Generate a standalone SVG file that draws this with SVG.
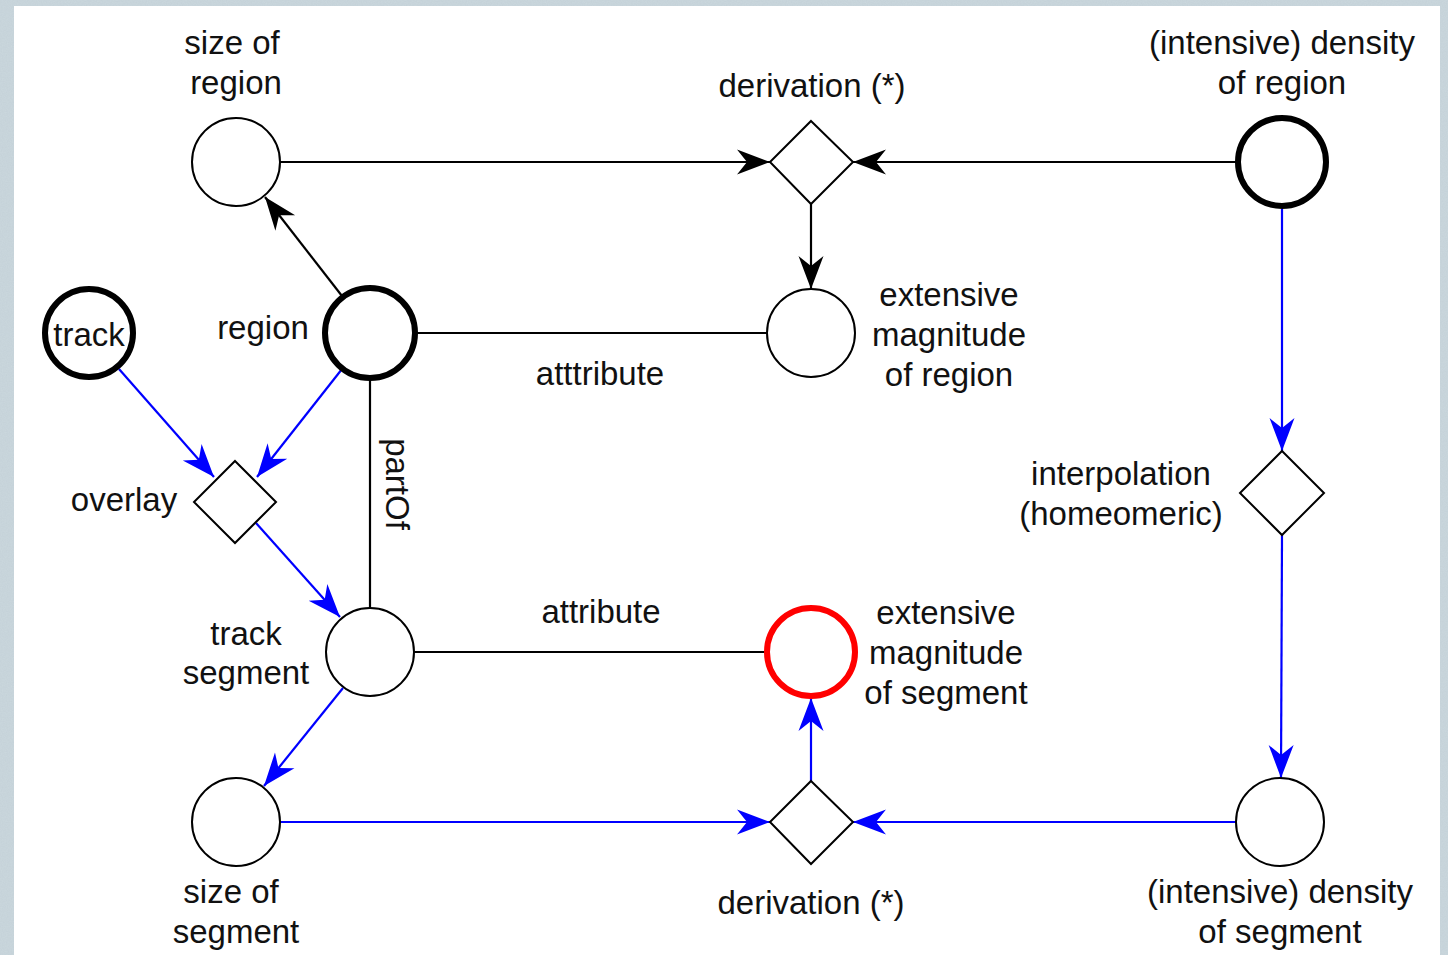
<svg xmlns="http://www.w3.org/2000/svg" width="1448" height="955" viewBox="0 0 1448 955">
  <style>
    .lbl { font-family: "Liberation Sans", Arial, sans-serif; font-size: 33px; fill: #111; text-anchor: middle; }
    .node { fill: #fff; stroke: #000; stroke-width: 2; }
    .bold { stroke-width: 6; }
    .red { stroke: #ff0000; stroke-width: 6; }
    .edge { fill: none; stroke: #000; stroke-width: 2.2; }
    .edge.blue { stroke: #0000ff; }
    .arr { marker-end: url(#arrowBlack); }
    .edge.blue.arr { marker-end: url(#arrowBlue); }
  </style>
  <defs>
    <marker id="arrowBlack" markerUnits="userSpaceOnUse" viewBox="-34 -14 35 28" refX="0" refY="0" markerWidth="35" markerHeight="28" orient="auto">
      <path d="M0,0 L-33,-12.5 L-23,0 L-33,12.5 Z" fill="#000"/>
    </marker>
    <marker id="arrowBlue" markerUnits="userSpaceOnUse" viewBox="-34 -14 35 28" refX="0" refY="0" markerWidth="35" markerHeight="28" orient="auto">
      <path d="M0,0 L-33,-12.5 L-23,0 L-33,12.5 Z" fill="#0000ff"/>
    </marker>
    <filter id="grain" x="0" y="0" width="100%" height="100%">
      <feTurbulence type="fractalNoise" baseFrequency="0.8" numOctaves="2" seed="3"/>
      <feColorMatrix type="matrix" values="0 0 0 0 0.52  0 0 0 0 0.60  0 0 0 0 0.65  0 0 0 0.6 0"/>
    </filter>
  </defs>

  <!-- textured backdrop and white sheet -->
  <rect x="0" y="0" width="1448" height="955" fill="#cbd8de"/>
  <rect x="0" y="0" width="1448" height="955" filter="url(#grain)"/>
  <rect x="14" y="6" width="1426" height="949" fill="#fff"/>

  <!-- connectors -->
  <g id="connectors">
    <line class="edge arr" x1="280" y1="162" x2="770" y2="162"/>
    <line class="edge arr" x1="1236" y1="162" x2="853" y2="162"/>
    <line class="edge arr" x1="811" y1="204" x2="811" y2="289"/>
    <line class="edge arr" x1="342" y1="296" x2="265" y2="197"/>
    <line class="edge" x1="415" y1="333" x2="767" y2="333"/>
    <line class="edge" x1="370" y1="378" x2="370" y2="608"/>
    <line class="edge" x1="414" y1="652" x2="767" y2="652"/>
    <line class="edge blue arr" x1="119" y1="369" x2="214" y2="477"/>
    <line class="edge blue arr" x1="342" y1="369" x2="257" y2="477"/>
    <line class="edge blue arr" x1="256" y1="523" x2="340" y2="617"/>
    <line class="edge blue arr" x1="343" y1="688" x2="264" y2="786"/>
    <line class="edge blue arr" x1="280" y1="822" x2="770" y2="822"/>
    <line class="edge blue arr" x1="1236" y1="822" x2="853" y2="822"/>
    <line class="edge blue arr" x1="811" y1="781" x2="811" y2="698"/>
    <line class="edge blue arr" x1="1282" y1="209" x2="1282" y2="451"/>
    <line class="edge blue arr" x1="1282" y1="535" x2="1281" y2="778"/>
    <text class="lbl" x="600" y="385">atttribute</text>
    <text class="lbl" x="601" y="623">attribute</text>
    <text class="lbl" transform="translate(386,484) rotate(90)">partOf</text>
  </g>

  <!-- nodes -->
  <g id="size-of-region">
    <circle class="node" cx="236" cy="162" r="44"/>
    <text class="lbl" x="232" y="54">size of</text>
    <text class="lbl" x="236" y="94">region</text>
  </g>
  <g id="derivation-region">
    <polygon class="node" points="811,121 853,162 811,204 770,162"/>
    <text class="lbl" x="812" y="97">derivation (*)</text>
  </g>
  <g id="density-of-region">
    <circle class="node bold" cx="1282" cy="162" r="44"/>
    <text class="lbl" x="1282" y="54">(intensive) density</text>
    <text class="lbl" x="1282" y="94">of region</text>
  </g>
  <g id="track">
    <circle class="node bold" cx="89" cy="333" r="44"/>
    <text class="lbl" x="89" y="346">track</text>
  </g>
  <g id="region">
    <circle class="node bold" cx="370" cy="333" r="45"/>
    <text class="lbl" x="263" y="339">region</text>
  </g>
  <g id="extensive-magnitude-of-region">
    <circle class="node" cx="811" cy="333" r="44"/>
    <text class="lbl" x="949" y="306">extensive</text>
    <text class="lbl" x="949" y="346">magnitude</text>
    <text class="lbl" x="949" y="386">of region</text>
  </g>
  <g id="overlay">
    <polygon class="node" points="235,461 276,502 235,543 194,502"/>
    <text class="lbl" x="124" y="511">overlay</text>
  </g>
  <g id="interpolation">
    <polygon class="node" points="1282,451 1324,493 1282,535 1240,493"/>
    <text class="lbl" x="1121" y="485">interpolation</text>
    <text class="lbl" x="1121" y="525">(homeomeric)</text>
  </g>
  <g id="track-segment">
    <circle class="node" cx="370" cy="652" r="44"/>
    <text class="lbl" x="246" y="645">track</text>
    <text class="lbl" x="246" y="684">segment</text>
  </g>
  <g id="extensive-magnitude-of-segment">
    <circle class="node red" cx="811" cy="652" r="44"/>
    <text class="lbl" x="946" y="624">extensive</text>
    <text class="lbl" x="946" y="664">magnitude</text>
    <text class="lbl" x="946" y="704">of segment</text>
  </g>
  <g id="size-of-segment">
    <circle class="node" cx="236" cy="822" r="44"/>
    <text class="lbl" x="231" y="903">size of</text>
    <text class="lbl" x="236" y="943">segment</text>
  </g>
  <g id="derivation-segment">
    <polygon class="node" points="811,781 853,822 811,864 770,822"/>
    <text class="lbl" x="811" y="914">derivation (*)</text>
  </g>
  <g id="density-of-segment">
    <circle class="node" cx="1280" cy="822" r="44"/>
    <text class="lbl" x="1280" y="903">(intensive) density</text>
    <text class="lbl" x="1280" y="943">of segment</text>
  </g>
</svg>
